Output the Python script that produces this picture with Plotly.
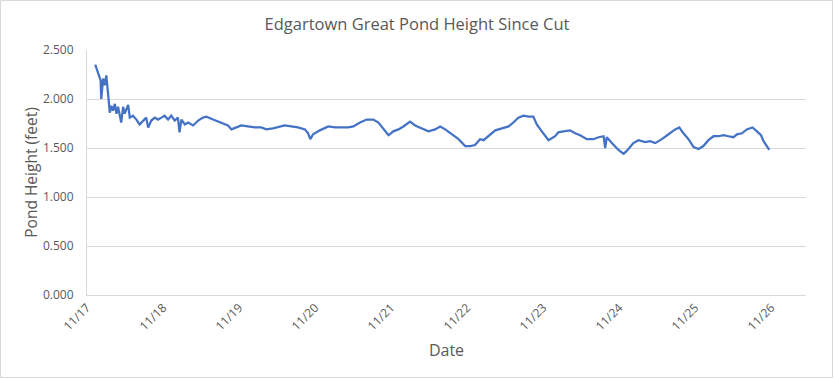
import pandas as pd
import plotly.graph_objects as go

# Hours since 11/17 00:00 and pond height (feet)
hours = [2.6, 3.3, 3.7, 4.3, 4.5, 5.1, 5.6, 6.1, 6.6, 7.2, 7.7, 8.2, 8.8, 9.3, 9.8,
         10.8, 11.4, 11.9, 13.0, 13.5, 14.5, 15.6, 16.6, 17.7, 18.7, 19.3, 20.3,
         21.4, 22.4, 23.5, 24.5, 25.6, 26.6, 27.7, 28.7, 29.2, 29.8, 30.9, 31.9,
         33.5, 35.1, 36.6, 37.7, 39.8, 42.4, 44.5, 45.6, 47.2, 48.7, 50.8, 53.0,
         55.0, 56.6, 58.7, 60.9, 62.4, 64.5, 66.6, 68.8, 69.8, 70.5, 71.4, 73.5,
         76.2, 78.3, 80.4, 82.5, 84.1, 86.2, 88.3, 90.4, 92.0, 93.6, 95.2, 96.7,
         98.3, 99.9, 102.0, 103.6, 105.7, 107.8, 109.9, 111.5, 113.1, 115.2, 117.3,
         119.4, 121.0, 122.5, 124.1, 125.2, 126.7, 128.9, 131.0, 133.1, 134.6,
         136.2, 137.8, 139.4, 140.9, 142.0, 143.6, 145.7, 147.8, 148.8, 150.4,
         152.5, 154.1, 155.7, 157.8, 159.9, 161.5, 163.1, 163.6, 164.1, 165.7,
         167.8, 169.4, 170.4, 172.5, 174.1, 176.2, 177.8, 179.4, 181.5, 183.6,
         185.7, 187.0, 188.3, 189.9, 191.5, 193.1, 194.6, 196.2, 197.8, 199.4,
         201.0, 202.5, 204.1, 205.2, 206.8, 208.3, 210.1, 211.5, 212.8, 213.6,
         214.6, 215.4]
height_ft = [2.35, 2.29, 2.24, 2.19, 2.00, 2.21, 2.14, 2.24, 2.07, 1.86, 1.93, 1.88,
             1.95, 1.85, 1.92, 1.76, 1.92, 1.85, 1.94, 1.81, 1.83, 1.79, 1.74, 1.78,
             1.81, 1.71, 1.78, 1.81, 1.79, 1.81, 1.83, 1.79, 1.83, 1.78, 1.81, 1.66,
             1.79, 1.74, 1.76, 1.73, 1.78, 1.81, 1.82, 1.79, 1.76, 1.73, 1.69, 1.71,
             1.73, 1.72, 1.71, 1.71, 1.69, 1.70, 1.72, 1.73, 1.72, 1.71, 1.69, 1.65,
             1.59, 1.64, 1.68, 1.72, 1.71, 1.71, 1.71, 1.72, 1.76, 1.79, 1.79, 1.76,
             1.69, 1.63, 1.67, 1.69, 1.72, 1.77, 1.73, 1.70, 1.67, 1.69, 1.72, 1.69,
             1.64, 1.59, 1.52, 1.52, 1.53, 1.59, 1.58, 1.62, 1.68, 1.70, 1.72, 1.76,
             1.81, 1.83, 1.82, 1.82, 1.74, 1.67, 1.58, 1.62, 1.66, 1.67, 1.68, 1.65,
             1.63, 1.59, 1.59, 1.61, 1.62, 1.50, 1.61, 1.55, 1.48, 1.44, 1.47, 1.55,
             1.58, 1.56, 1.57, 1.55, 1.59, 1.64, 1.69, 1.71, 1.65, 1.59, 1.51, 1.49,
             1.52, 1.58, 1.62, 1.62, 1.63, 1.62, 1.61, 1.64, 1.65, 1.69, 1.71, 1.67,
             1.63, 1.57, 1.52, 1.48]

start = pd.Timestamp("2023-11-17 00:00")
x_end = pd.Timestamp("2023-11-26 11:00")
times = [start + pd.Timedelta(hours=h) for h in hours]
tick_vals = pd.date_range("2023-11-17", "2023-11-26", freq="D")
tick_text = [d.strftime("%m/%d") for d in tick_vals]

font = "Open Sans, Liberation Sans, sans-serif"
grey = "#595959"

fig = go.Figure(go.Scatter(x=times, y=height_ft, mode="lines",
                           line=dict(color="#4472C4", width=2.25)))

ml, mr, mt, mb = 87, 28, 50, 84
W, H = 834, 379
pw, ph = W - ml - mr, H - mt - mb

fig.update_layout(
    width=W, height=H,
    margin=dict(l=ml, r=mr, t=mt, b=mb, autoexpand=False),
    paper_bgcolor="white", plot_bgcolor="white",
    showlegend=False,
    title=dict(text="Edgartown Great Pond Height Since Cut", x=0.5, xanchor="center",
               y=1 - 24 / H, yanchor="middle",
               font=dict(family=font, size=16.5, color=grey)),
    xaxis=dict(range=[start, x_end], tickvals=tick_vals, ticktext=tick_text,
               tickangle=-45, showgrid=False, showline=True, linecolor="#d9d9d9",
               linewidth=1, zeroline=False, ticks="", automargin=False,
               tickfont=dict(family=font, size=12, color=grey),
               title=dict(text="Date", font=dict(family=font, size=16, color=grey),
                          standoff=11)),
    yaxis=dict(range=[0, 2.5], dtick=0.5, tickformat=".3f", showgrid=True,
               gridcolor="#d9d9d9", gridwidth=1, showline=True, linecolor="#d9d9d9",
               zeroline=False, ticks="", ticklabelstandoff=10, automargin=False,
               tickfont=dict(family=font, size=12, color=grey),
               title=dict(text="Pond Height (feet)",
                          font=dict(family=font, size=15.5, color=grey), standoff=1)),
    shapes=[dict(type="rect", xref="paper", yref="paper",
                 x0=-(ml - 0.5) / pw, x1=(W - ml - 1.5) / pw,
                 y0=-(mb - 1.5) / ph, y1=(ph + mt - 0.5) / ph,
                 line=dict(color="#d9d9d9", width=1), layer="below")],
)

fig.write_html("out.html", config={"displayModeBar": False},
               post_script="document.body.style.margin='0';document.body.style.overflow='hidden';")
